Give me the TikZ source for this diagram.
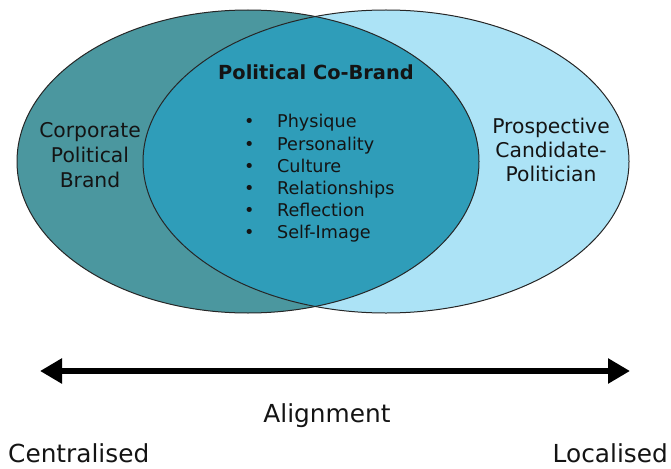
\documentclass[tikz,border=0pt]{standalone}
\usepackage{fontspec}
\setmainfont{DejaVu Sans}
\usetikzlibrary{arrows.meta}
\definecolor{leftfill}{HTML}{4B979F}
\definecolor{midfill}{HTML}{2F9DB9}
\definecolor{rightfill}{HTML}{ACE3F6}
\definecolor{txt}{HTML}{141414}
\tikzset{
  outline/.style={draw=black!85, line width=1pt},
  lbl/.style={anchor=base, inner sep=0pt, text=txt, font=\fontsize{20.3}{25}\selectfont},
  item/.style={anchor=base west, inner sep=0pt, text=txt, font=\fontsize{17.6}{22}\selectfont},
  axis/.style={anchor=base, inner sep=0pt, text=txt, font=\fontsize{24.8}{28}\selectfont},
}
\begin{document}
\begin{tikzpicture}[x=1pt,y=-1pt]
\useasboundingbox (0,0) rectangle (671,468);
% ellipses
\fill[leftfill] (248,161.5) ellipse [x radius=231, y radius=151.5];
\fill[rightfill] (386,161.5) ellipse [x radius=243, y radius=151.5];
\begin{scope}
  \clip (248,161.5) ellipse [x radius=231, y radius=151.5];
  \fill[midfill] (386,161.5) ellipse [x radius=243, y radius=151.5];
\end{scope}
\draw[outline] (248,161.5) ellipse [x radius=231, y radius=151.5];
\draw[outline] (386,161.5) ellipse [x radius=243, y radius=151.5];
% left labels
\node[lbl] (c1) at (90,137) {Corporate};
\node[lbl] (c2) at (90,162) {Political};
\node[lbl] (c3) at (90,187) {Brand};
% right labels
\node[lbl] (p1) at (551,133) {Prospective};
\node[lbl] (p2) at (551,157) {Candidate-};
\node[lbl] (p3) at (551,181) {Politician};
% title
\node[lbl, font=\bfseries\fontsize{19.4}{24}\selectfont] (title) at (316,80) {Political Co-Brand};
% bullet list
\foreach \t [count=\i] in {Physique,Personality,Culture,Relationships,Reflection,Self-Image}{
  \node[item] (b\i) at (244,{106+22*\i}) {\textbullet};
  \node[item] (i\i) at (277,{106+22*\i}) {\t};
}
% axis
\coordinate (L) at (40,371);
\coordinate (R) at (630,371);
\draw[line width=6.5pt, {Triangle[length=22pt,width=24pt]}-{Triangle[length=22pt,width=24pt]}] (L) -- (R);
\node[axis] (al) at (327,422) {Alignment};
\node[axis, anchor=base west] (ce) at (8,462) {Centralised};
\node[axis, anchor=base east] (lo) at (668,462) {Localised};
\end{tikzpicture}
\end{document}
